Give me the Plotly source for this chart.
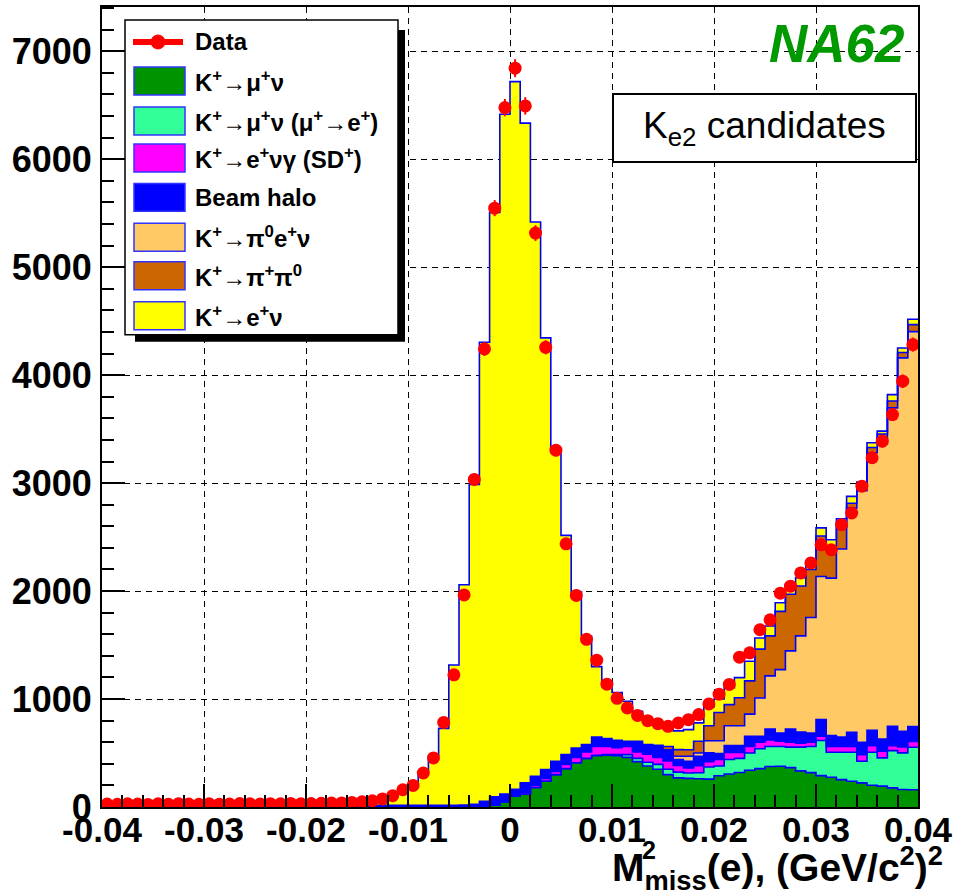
import numpy as np
import plotly.graph_objects as go

# ---------------- data (80 bins of width 0.001 from -0.04 to 0.04) ----------------
bin_lo = -0.04
bin_w = 0.001
n_bins = 80

data_counts = [28, 25, 30, 27, 24, 29, 26, 31, 27, 25, 30, 26, 28, 32, 29, 27, 31, 30, 33, 29,
               32, 34, 36, 38, 42, 48, 58, 75, 105, 160, 200, 315, 455, 783, 1224, 1964, 3034, 4243, 5547, 6478,
               6843, 6494, 5316, 4258, 3305, 2438, 1960, 1553, 1360, 1138, 1007, 918, 848, 800, 772, 747, 778, 809, 856, 955,
               1045, 1135, 1388, 1428, 1642, 1734, 1981, 2045, 2168, 2261, 2428, 2382, 2615, 2723, 2972, 3235, 3388, 3635, 3944, 4283]

kmunu = [0] * 37 + [8, 20, 50, 100, 120, 180, 240, 300, 355, 410, 450, 475, 480, 475, 460, 420, 380, 350, 300, 270,
                    265, 262, 258, 290, 305, 320, 340, 355, 375, 377, 365, 335, 318, 291, 276, 254, 239, 223, 202, 193,
                    177, 162, 160]

kmunu_mue = [0] * 48 + [5, 5, 10, 25, 30, 35, 45, 50, 53, 50, 55, 112, 90, 135, 130, 160, 185, 185, 183, 190,
                        220, 242, 325, 231, 253, 268, 201, 305, 262, 345, 339, 394]

kenug_sd = [0] * 41 + [15, 20, 25, 30, 40, 50, 60, 80, 75, 65, 75, 60, 75, 65, 77, 61, 46, 65, 50, 60,
                       65, 55, 60, 60, 60, 50, 45, 35, 40, 39, 55, 55, 55, 61, 61, 61, 46, 55, 53]

beam_halo = [12, 11, 13, 12, 10, 12, 13, 11, 12, 12, 10, 13, 12, 11, 12, 13, 12, 11, 12, 13,
             12, 12, 13, 12, 14, 14, 15, 15, 16, 15, 15, 16, 15, 15, 16, 18, 25, 45, 75, 70,
             65, 90, 85, 82, 94, 90, 87, 68, 89, 74, 68, 49, 99, 88, 102, 93, 55, 63, 88, 81,
             55, 64, 64, 95, 55, 103, 76, 123, 105, 86, 154, 99, 86, 130, 114, 142, 114, 179, 145, 138]

kpi0enu = [0] * 54 + [5, 10, 31, 46, 30, 113, 119, 183, 183, 205, 355, 492, 586, 723, 890, 1069,
                      1326, 1459, 1742, 2076, 2331, 2571, 2790, 2950, 3459, 3658]

kpipi0 = [0] * 54 + [5, 31, 61, 60, 109, 138, 262, 196, 260, 308, 452, 370, 540, 524, 462, 445,
                     375, 300, 200, 46, 40, 49, 35, 63, 50, 65]

kenu = [8, 9, 8, 7, 9, 8, 8, 9, 8, 8, 9, 8, 8, 9, 9, 8, 9, 9, 10, 10,
        11, 12, 14, 16, 20, 28, 35, 55, 85, 124, 182, 306, 460, 713, 1299, 2041, 2963, 4252, 5412, 6297,
        6554, 6109, 5133, 3998, 2884, 2031, 1446, 1002, 651, 530, 442, 370, 277, 231, 182, 164, 174, 187, 170, 175,
        125, 157, 186, 182, 103, 92, 80, 93, 78, 77, 75, 55, 80, 63, 40, 44, 27, 60, 42, 50]

x_tickvals = [-0.04, -0.03, -0.02, -0.01, 0.0, 0.01, 0.02, 0.03, 0.04]
x_ticktext = ["-0.04", "-0.03", "-0.02", "-0.01", "0", "0.01", "0.02", "0.03", "0.04"]
y_tickvals = [0, 1000, 2000, 3000, 4000, 5000, 6000, 7000]

components = [
    ("K<sup>+</sup>→μ<sup>+</sup>ν", kmunu, "#009300"),
    ("K<sup>+</sup>→μ<sup>+</sup>ν (μ<sup>+</sup>→e<sup>+</sup>)", kmunu_mue, "#33ff99"),
    ("K<sup>+</sup>→e<sup>+</sup>νγ (SD<sup>+</sup>)", kenug_sd, "#ff00ff"),
    ("Beam halo", beam_halo, "#0000ff"),
    ("K<sup>+</sup>→π<sup>0</sup>e<sup>+</sup>ν", kpi0enu, "#ffc966"),
    ("K<sup>+</sup>→π<sup>+</sup>π<sup>0</sup>", kpipi0, "#cc6600"),
    ("K<sup>+</sup>→e<sup>+</sup>ν", kenu, "#ffff00"),
]

edges = bin_lo + bin_w * np.arange(n_bins + 1)
centers = edges[:-1] + bin_w / 2

fig = go.Figure()
for name, vals, col in components:
    yv = list(vals) + [vals[-1]]
    fig.add_trace(go.Scatter(
        x=edges, y=yv, name=name, mode="lines", stackgroup="mc",
        line=dict(color="#0000ff", width=1.6, shape="hv"),
        fillcolor=col, showlegend=False, hoverinfo="skip"))

dc = np.array(data_counts, dtype=float)
fig.add_trace(go.Scatter(
    x=centers, y=dc, mode="markers", name="Data",
    marker=dict(color="#ff0000", size=13, symbol="circle"),
    error_x=dict(type="constant", value=bin_w / 2, color="#ff0000", thickness=4, width=0),
    error_y=dict(type="data", array=np.sqrt(dc), color="#ff0000", thickness=2, width=0),
    showlegend=False))

# ---------------- layout ----------------
L, R, T, B = 102, 918, 7, 807.5
W, H = 955, 895
YMAX = 7410


def px(x):
    return (x - L) / (R - L)


def py(y):
    return (B - y) / (B - T)


font_fam = "Liberation Sans, Arial, sans-serif"

fig.update_layout(
    width=W, height=H,
    margin=dict(l=L, r=W - R, t=T, b=H - B, autoexpand=False),
    paper_bgcolor="white", plot_bgcolor="white",
    showlegend=False,
    font=dict(family=font_fam, color="black"),
)
fig.update_xaxes(
    range=[-0.04, 0.04], tickvals=x_tickvals, ticktext=x_ticktext,
    ticks="inside", ticklen=23, tickwidth=1.5, tickcolor="black",
    minor=dict(dtick=0.002, tick0=-0.04, ticks="inside", ticklen=12, tickwidth=1.5, tickcolor="black", showgrid=False),
    showgrid=True, gridcolor="black", gridwidth=1, griddash="6px,5px",
    zeroline=False, showline=True, linecolor="black", linewidth=2, mirror=True,
    tickfont=dict(family=font_fam, size=35, color="black", weight="bold"),
    ticklabelstandoff=-9, automargin=False,
)
fig.update_yaxes(
    range=[0, YMAX], tickvals=y_tickvals,
    ticks="inside", ticklen=23, tickwidth=1.5, tickcolor="black",
    minor=dict(dtick=200, tick0=0, ticks="inside", ticklen=12, tickwidth=1.5, tickcolor="black", showgrid=False),
    showgrid=True, gridcolor="black", gridwidth=1, griddash="6px,5px",
    zeroline=False, showline=True, linecolor="black", linewidth=2, mirror=True,
    tickfont=dict(family=font_fam, size=36, color="black", weight="bold"),
    ticklabelstandoff=1, automargin=False,
)

shapes = []
annotations = []

# legend (ROOT style box with shadow)
shapes.append(dict(type="rect", xref="paper", yref="paper", layer="above",
                   x0=px(135), x1=px(405), y0=py(342), y1=py(30),
                   fillcolor="black", line=dict(width=0)))
shapes.append(dict(type="rect", xref="paper", yref="paper", layer="above",
                   x0=px(125), x1=px(398), y0=py(335), y1=py(20),
                   fillcolor="white", line=dict(color="black", width=1.5)))
# data entry
shapes.append(dict(type="line", xref="paper", yref="paper", layer="above",
                   x0=px(133), x1=px(183), y0=py(42), y1=py(42),
                   line=dict(color="#ff0000", width=6)))
shapes.append(dict(type="circle", xref="paper", yref="paper", layer="above",
                   x0=px(151), x1=px(165), y0=py(49), y1=py(35),
                   fillcolor="#ff0000", line=dict(color="#ff0000", width=1)))
annotations.append(dict(text="<b>Data</b>", xref="paper", yref="paper", x=px(193), y=py(42),
                        xanchor="left", yanchor="middle", showarrow=False,
                        font=dict(family=font_fam, size=24, color="black")))
row_y = [81, 121, 158, 197.5, 237.5, 276, 316]
for (name, vals, col), yc in zip(components, row_y):
    shapes.append(dict(type="rect", xref="paper", yref="paper", layer="above",
                       x0=px(134), x1=px(185), y0=py(yc + 14), y1=py(yc - 14),
                       fillcolor=col, line=dict(color="#3333ff", width=1.5)))
    annotations.append(dict(text="<b>" + name + "</b>", xref="paper", yref="paper", x=px(193), y=py(yc),
                            xanchor="left", yanchor="middle", showarrow=False,
                            font=dict(family=font_fam, size=24, color="black")))

# Ke2 candidates box
shapes.append(dict(type="rect", xref="paper", yref="paper", layer="above",
                   x0=px(613), x1=px(916), y0=py(162), y1=py(94),
                   fillcolor="white", line=dict(color="black", width=2)))
annotations.append(dict(text="K<sub>e2</sub> candidates", xref="paper", yref="paper",
                        x=px(764), y=py(128), xanchor="center", yanchor="middle", showarrow=False,
                        font=dict(family=font_fam, size=37, color="black")))

# NA62 label
annotations.append(dict(text="<b><i>NA62</i></b>", xref="paper", yref="paper",
                        x=px(907), y=py(44), xanchor="right", yanchor="middle", showarrow=False,
                        font=dict(family=font_fam, size=53, color="#009900")))

# x-axis title
annotations.append(dict(text="<b>M<sub>miss</sub>(e), (GeV/c<sup>2</sup>)<sup>2</sup></b>",
                        xref="paper", yref="paper", x=px(945), y=py(869),
                        xanchor="right", yanchor="middle", showarrow=False,
                        font=dict(family=font_fam, size=39, color="black")))
annotations.append(dict(text="<b>2</b>", xref="paper", yref="paper", x=px(640), y=py(851),
                        xanchor="left", yanchor="middle", showarrow=False,
                        font=dict(family=font_fam, size=25, color="black")))

fig.update_layout(shapes=shapes, annotations=annotations)

fig.write_html("out.html", config={"displayModeBar": False},
               post_script="document.body.style.margin='0px';")
